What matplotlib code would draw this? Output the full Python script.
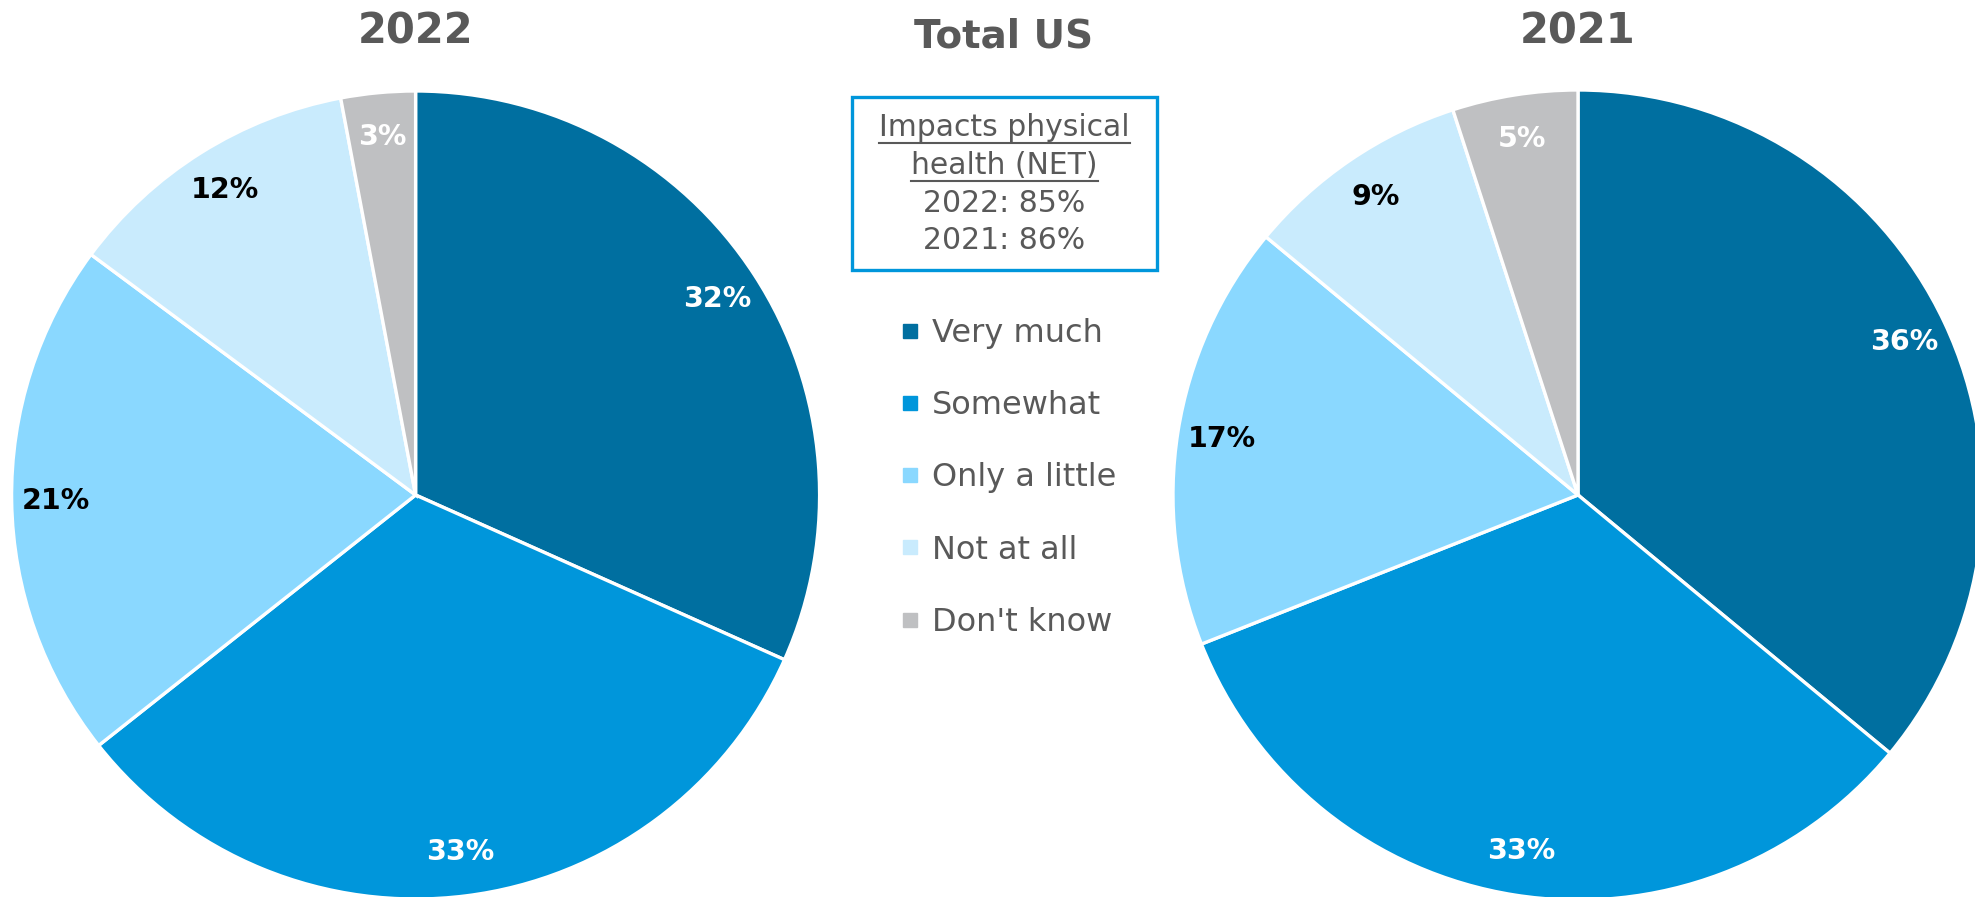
import matplotlib
matplotlib.use("Agg")
import matplotlib.pyplot as plt
from matplotlib.lines import Line2D
from matplotlib.patches import Rectangle

# pie data
categories = ["Very much", "Somewhat", "Only a little", "Not at all", "Don't know"]
values_2022 = [32, 33, 21, 12, 3]
values_2021 = [36, 33, 17, 9, 5]
net_lines = ["Impacts physical", "health (NET)", "2022: 85%", "2021: 86%"]

colors = ["#006FA0", "#0096DB", "#8AD8FF", "#C9EBFD", "#BFC0C2"]
label_colors = ["white", "white", "black", "black", "white"]
GREY = "#595959"

W, H = 1975, 897
fig = plt.figure(figsize=(W / 100, H / 100), dpi=100)


def fx(px):
    return px / W


def fy(py):
    # py measured from the top
    return 1 - py / H


def draw_pie(cx, cy, r, values, title):
    ax = fig.add_axes([fx(cx - r), fy(cy + r), 2 * r / W, 2 * r / H])
    wedges, texts = ax.pie(values, colors=colors, startangle=90, counterclock=False,
                           labels=[f"{v}%" for v in values], labeldistance=0.89,
                           wedgeprops=dict(edgecolor="white", linewidth=2.4))
    for t, c in zip(texts, label_colors):
        t.set_ha("center")
        t.set_va("center")
        t.set_color(c)
        t.set_fontsize(20.5)
        t.set_fontweight("bold")
    ax.set_xlim(-1, 1)
    ax.set_ylim(-1, 1)
    ax.set_aspect("equal")
    ax.axis("off")
    fig.text(fx(cx), fy(31), title, ha="center", va="center", fontsize=30,
             fontweight="bold", color=GREY)
    return wedges


draw_pie(415.6, 495, 404, values_2022, "2022")
draw_pie(1578, 495, 405, values_2021, "2021")

fig.text(fx(1004), fy(36), "Total US", ha="center", va="center", fontsize=28,
         fontweight="bold", color=GREY)

# NET box
fig.add_artist(Rectangle((fx(852), fy(270)), fx(1157) - fx(852), fy(97) - fy(270),
                         transform=fig.transFigure, fill=False,
                         edgecolor="#0096DB", linewidth=2.4))
line_y = [127, 165, 203, 240]
net_texts = []
for s, y in zip(net_lines, line_y):
    net_texts.append(fig.text(fx(1004.5), fy(y), s, ha="center", va="center",
                              fontsize=21.5, color=GREY))

# underline the first two lines
fig.canvas.draw()
renderer = fig.canvas.get_renderer()
for t, y in zip(net_texts[:2], [143, 181]):
    bb = t.get_window_extent(renderer)
    fig.add_artist(Line2D([bb.x0 / W, bb.x1 / W], [fy(y), fy(y)],
                          transform=fig.transFigure, color=GREY, linewidth=1.5))

# legend
handles = [Line2D([], [], marker="s", linestyle="none", markersize=9.5,
                  markerfacecolor=c, markeredgecolor=c) for c in colors]
leg = fig.legend(handles, categories, loc="upper left",
                 bbox_to_anchor=(fx(900), fy(318)), frameon=False,
                 fontsize=23, labelspacing=1.29, handlelength=0.6,
                 handletextpad=0.4, borderpad=0, borderaxespad=0)
for t in leg.get_texts():
    t.set_color(GREY)

fig.savefig("out.png", dpi=100)
